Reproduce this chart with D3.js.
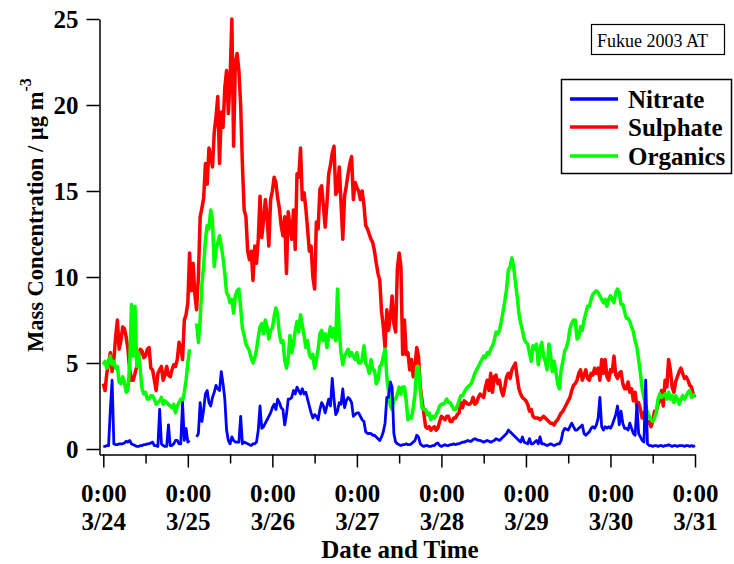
<!DOCTYPE html>
<html><head><meta charset="utf-8">
<script src="https://cdn.jsdelivr.net/npm/d3@7"></script>
<style>body{margin:0;background:#fff}svg{display:block}</style>
</head><body>
<svg id="chart" width="734" height="564"></svg>
<script>
// time in hours since 3/24 0:00, half-hour steps
const hours = d3.range(0, 168.5, 0.5);
const sulphate = [
3.8,3.4,4.4,5.0,5.6,4.5,5.2,6.5,7.5,5.8,6.3,7.1,7.0,6.5,5.8,4.6,4.0,4.0,4.4,4.8,5.4,5.8,5.7,5.3,
5.4,5.8,5.9,4.7,4.6,4.0,3.4,4.4,4.6,4.8,4.0,4.3,4.8,4.3,4.2,4.6,4.9,4.8,5.2,6.2,5.9,5.2,7.5,7.8,
8.5,11.4,9.2,10.8,9.0,8.1,10.0,13.5,14.0,14.6,16.6,15.4,17.5,17.0,16.4,18.4,19.3,20.5,16.6,19.6,18.7,21.0,22.0,19.5,
21.5,25.0,17.6,22.5,23.0,22.0,20.0,16.5,13.9,13.5,11.5,11.0,11.5,9.8,11.8,10.8,12.2,14.7,12.3,13.3,14.5,13.5,11.8,14.5,
15.0,15.8,15.5,14.6,14.0,13.0,12.4,13.5,10.2,13.8,13.0,12.2,13.9,11.6,16.0,15.8,17.5,14.5,14.9,14.0,12.8,11.5,11.8,10.0,
9.3,13.2,12.8,15.1,15.3,14.1,12.9,14.3,16.0,16.5,17.2,17.6,14.8,15.0,16.4,14.3,12.2,14.7,15.3,16.0,16.6,17.0,14.5,15.5,
15.2,15.0,14.5,15.0,14.2,13.0,12.8,12.5,12.2,12.0,11.5,10.8,10.2,9.8,8.0,7.1,5.9,8.1,6.9,7.7,8.9,7.3,6.8,10.5,
11.4,10.6,5.5,7.5,5.5,5.6,4.6,5.2,4.2,4.8,5.9,5.4,3.6,2.8,2.1,1.3,1.2,1.3,1.1,1.2,1.3,1.1,1.2,1.6,
1.9,1.8,1.7,1.9,1.9,1.6,1.6,1.8,1.8,2.0,2.1,2.7,2.4,2.8,2.7,2.6,2.6,2.7,3.0,2.6,2.7,3.0,3.2,3.1,
3.0,3.6,4.0,3.4,4.4,3.3,4.2,4.3,3.8,4.0,3.4,3.1,3.6,4.2,4.4,4.1,4.6,4.8,5.0,4.2,3.5,3.2,3.0,2.9,
2.8,2.6,2.2,2.3,1.9,1.8,1.8,1.8,1.7,1.8,1.9,1.8,1.7,1.6,1.5,1.5,1.4,1.6,1.7,1.9,2.1,2.2,2.4,2.6,
2.8,3.0,3.4,3.7,3.8,4.0,4.4,4.6,4.0,4.3,4.6,4.1,4.0,4.4,4.3,4.7,4.4,4.7,4.0,5.2,4.4,5.2,4.2,4.0,
4.6,4.5,5.4,4.3,4.1,4.4,4.5,3.8,3.5,3.5,3.9,3.3,3.5,2.8,3.3,2.5,2.7,2.3,1.8,2.1,1.8,1.5,1.6,1.3,
1.6,2.2,2.2,2.6,2.8,3.4,2.5,4.0,3.6,5.2,4.6,3.6,3.3,3.9,4.2,4.5,4.7,4.4,4.1,4.2,4.0,3.7,3.6,3.2,
3.0];
const organics = [
4.9,5.1,4.7,5.0,5.4,4.9,5.1,4.7,4.8,3.9,3.8,4.2,3.9,3.3,3.4,5.0,8.4,5.4,8.3,4.8,5.6,4.6,3.5,3.2,
3.3,2.9,2.9,3.1,3.1,2.9,2.6,2.7,2.8,3.0,2.6,2.8,2.7,2.6,2.5,2.4,2.6,2.1,2.5,2.7,2.9,2.8,3.3,4.0,
5.0,5.8,null,null,null,7.3,6.2,7.5,9.6,10.7,12.2,13.0,12.8,13.9,13.3,10.6,11.6,12.0,12.4,11.8,11.1,10.2,9.1,8.9,
8.5,8.7,7.9,8.9,9.2,9.3,8.2,7.0,6.6,6.1,5.9,5.7,5.3,5.0,5.3,5.8,6.5,7.1,7.3,6.7,7.5,7.1,6.4,6.9,
7.0,7.7,8.2,7.8,6.7,6.2,6.3,5.2,4.7,5.3,6.6,5.6,6.1,6.9,7.4,6.8,7.8,7.2,6.6,5.9,6.3,5.5,5.3,5.5,
4.7,5.2,5.8,6.7,6.9,6.3,6.7,5.9,6.6,7.1,6.5,7.0,6.3,9.3,6.8,5.6,4.9,5.4,5.6,5.8,5.4,5.6,5.4,5.2,
5.6,5.0,5.0,5.2,6.0,5.0,4.8,4.4,5.2,4.6,4.6,3.8,4.0,4.8,4.9,5.4,5.8,4.2,3.3,2.5,2.3,2.9,2.9,3.2,
3.6,3.2,3.6,3.6,2.8,1.7,1.9,1.8,2.4,3.2,4.8,4.8,3.4,2.4,2.3,2.3,2.0,2.1,1.7,1.9,1.8,2.0,2.2,2.5,
2.6,2.6,2.7,2.9,2.7,2.7,2.5,2.3,2.3,2.5,2.8,3.1,3.1,3.3,3.5,3.6,3.7,3.8,4.1,4.4,4.6,4.8,5.0,5.2,
5.4,5.3,5.6,5.5,5.8,6.0,6.3,6.8,6.7,6.9,7.4,8.0,8.6,9.3,10.4,10.6,11.1,10.6,9.7,8.9,7.9,7.3,6.9,6.4,
6.2,6.1,5.6,5.1,6.0,5.8,6.1,4.9,5.8,6.2,5.4,5.1,4.6,6.1,5.5,4.5,5.1,4.5,3.8,3.5,4.6,5.1,5.7,5.9,
6.3,7.0,7.3,7.5,7.5,6.4,6.5,7.1,6.9,7.5,7.9,8.3,8.3,8.7,9.0,9.1,9.2,9.1,8.9,8.7,8.5,8.7,8.3,8.7,
8.9,8.7,8.5,9.1,9.3,9.1,8.4,8.4,8.0,7.6,7.6,7.4,7.1,6.8,6.3,5.9,5.2,4.4,3.5,3.0,2.5,2.1,1.9,1.7,
1.6,1.8,2.1,2.9,3.2,3.0,3.1,3.2,2.9,3.3,2.9,3.1,2.7,3.1,2.9,2.6,2.9,3.1,2.9,3.1,3.3,3.4,3.0,3.1,
3.2];
const nitrate = [
0.15,0.15,0.2,0.2,2.3,4.0,0.3,0.25,0.25,0.3,0.3,0.3,0.35,0.45,0.4,0.5,0.3,0.25,0.2,0.15,0.15,0.2,0.2,0.25,
0.25,0.3,0.3,0.35,0.4,0.2,0.2,0.15,2.3,0.3,0.2,0.15,0.15,1.4,0.2,0.2,0.3,0.5,0.5,0.3,0.3,2.7,0.5,1.2,
0.4,0.5,null,null,null,0.7,0.9,2.7,1.6,2.3,3.2,3.4,2.7,2.5,3.0,3.3,3.7,3.5,3.4,4.5,3.8,2.9,1.1,0.5,
0.3,0.7,0.5,0.4,0.4,0.4,1.9,0.3,0.4,0.35,0.3,0.25,0.2,0.3,0.3,0.4,1.1,2.5,1.2,1.3,1.5,1.7,1.9,2.1,
2.4,2.6,2.3,2.9,2.7,2.4,2.3,1.4,2.0,2.9,2.9,3.0,3.4,3.2,3.6,3.4,3.2,3.5,3.2,3.3,2.9,2.5,2.1,1.8,
2.0,1.9,1.7,2.3,2.7,2.5,2.1,2.5,2.9,2.5,4.1,2.9,2.0,2.2,2.7,2.6,3.5,2.4,2.8,3.0,2.9,2.7,1.9,2.0,
2.1,2.1,1.9,1.7,1.6,1.0,0.9,0.9,0.9,0.8,0.8,0.7,0.6,0.5,0.7,1.0,1.5,3.0,3.0,3.9,3.6,0.9,0.4,0.3,
0.25,0.2,0.25,0.25,0.3,0.25,0.25,0.3,0.4,0.5,0.8,0.7,0.3,0.2,0.15,0.2,0.2,0.15,0.15,0.2,0.2,0.3,0.35,0.2,
0.15,0.2,0.25,0.2,0.2,0.25,0.25,0.3,0.25,0.3,0.3,0.35,0.4,0.4,0.45,0.5,0.45,0.45,0.55,0.6,0.55,0.5,0.5,0.45,
0.4,0.45,0.5,0.45,0.4,0.45,0.5,0.6,0.55,0.5,0.6,0.7,0.8,0.9,1.1,1.0,0.9,0.8,0.7,0.6,0.5,0.4,0.7,0.4,
0.35,0.3,0.6,0.3,0.3,0.4,0.5,0.3,0.7,0.3,0.3,0.25,0.2,0.25,0.3,0.25,0.2,0.25,0.3,0.3,0.5,1.0,1.2,1.15,
1.1,1.3,1.5,1.3,1.1,1.1,1.2,1.3,1.4,0.9,0.8,0.9,1.0,1.2,1.3,1.2,1.4,1.8,3.0,1.3,1.1,1.3,1.2,1.3,
1.2,1.4,1.7,2.0,2.5,1.4,2.2,1.5,1.2,1.2,1.1,1.5,1.2,0.9,0.8,2.6,0.9,0.7,0.5,0.4,4.0,0.3,0.2,0.2,
0.15,0.2,0.2,0.15,0.2,0.2,0.15,0.2,0.2,0.25,0.2,0.15,0.2,0.2,0.15,0.2,0.2,0.2,0.15,0.2,0.2,0.15,0.2,0.15,
0.2];
const dayLabels = ["3/24","3/25","3/26","3/27","3/28","3/29","3/30","3/31"];
const timeLabel = "0:00";
const yTickValues = [0,5,10,15,20,25];
const seriesNames = ["Nitrate","Sulphate","Organics"];
const seriesColors = ["#0000ff","#ff0000","#00ff00"];
const boxTitle = "Fukue 2003 AT";

const FONT = "'Liberation Serif','Times New Roman',Times,serif";
const svg = d3.select("#chart");

const x = d3.scaleLinear().domain([0,168]).range([103.3,695]);
const y = d3.scaleLinear().domain([0,25]).range([449,19]);
const xAxisScale = x.copy().domain([x.invert(99.5),168]).range([99.5,695]);
const yAxisScale = y.copy().domain([y.invert(454.5),25]).range([454.5,19]);

const lineGen = d3.line()
  .defined(d => d.v != null)
  .x(d => x(d.h)).y(d => y(d.v));
const toPts = arr => arr.map((v,i)=>({h:hours[i], v:v}));
const drawOrder = [
  {data:sulphate, color:seriesColors[1], w:3.5},
  {data:organics, color:seriesColors[2], w:3.5},
  {data:nitrate, color:seriesColors[0], w:2.8}
];
const plot = svg.append("g");
drawOrder.forEach(s=>{
  plot.append("path").datum(toPts(s.data))
    .attr("d", lineGen).attr("fill","none")
    .attr("stroke", s.color).attr("stroke-width", s.w)
    .attr("stroke-linejoin","round");
});

// x axis minor ticks (12:00)
const gxMinor = svg.append("g").attr("transform","translate(0,454.5)")
  .call(d3.axisBottom(xAxisScale).tickValues(d3.range(12,169,24)).tickSize(9).tickSizeOuter(0).tickFormat(""));
gxMinor.select(".domain").remove();
// x axis major ticks with two-line labels
const gx = svg.append("g").attr("transform","translate(0,454.5)")
  .call(d3.axisBottom(xAxisScale).tickValues(d3.range(0,169,24)).tickSize(13).tickSizeOuter(0));
gx.selectAll(".tick text").each(function(d){
  const t = d3.select(this);
  t.text(null).attr("dy",null).attr("y",null);
  t.append("tspan").attr("x",0).attr("y",47.5).text(timeLabel);
  t.append("tspan").attr("x",0).attr("y",75.5).text(dayLabels[d/24]);
});
gx.selectAll("text").attr("font-family",FONT).attr("font-weight","bold")
  .attr("font-size",25).attr("fill","#000");

// y axis
const gy = svg.append("g").attr("transform","translate(99.5,0)")
  .call(d3.axisLeft(yAxisScale).tickValues(yTickValues).tickSize(13).tickSizeOuter(0).tickPadding(8));
gy.selectAll("text").attr("font-family",FONT).attr("font-weight","bold")
  .attr("font-size",25).attr("fill","#000");

[gx,gy,gxMinor].forEach(g=>{
  g.selectAll("line").attr("stroke","#000").attr("stroke-width",1.5);
  g.selectAll(".domain").attr("stroke","#000").attr("stroke-width",1.5);
});

// axis titles
svg.append("text").attr("x",400).attr("y",558).attr("text-anchor","middle")
  .attr("font-family",FONT).attr("font-weight","bold").attr("font-size",25)
  .text("Date and Time");
const yt = svg.append("text").attr("transform","translate(43,352) rotate(-90)")
  .attr("font-family",FONT).attr("font-weight","bold").attr("font-size",22.5);
yt.append("tspan").text("Mass Concentration / µg m");
yt.append("tspan").attr("dy",-12).attr("font-size",16).text("-3");

// title box
svg.append("rect").attr("x",591.5).attr("y",24.5).attr("width",133).attr("height",30)
  .attr("fill","#fff").attr("stroke","#000").attr("stroke-width",1.2);
svg.append("text").attr("x",597).attr("y",46.5)
  .attr("font-family",FONT).attr("font-size",18).text(boxTitle);

// legend
const lg = svg.append("g");
lg.append("rect").attr("x",561.5).attr("y",79.5).attr("width",170).attr("height",94)
  .attr("fill","#fff").attr("stroke","#000").attr("stroke-width",1.5);
const legY = [99,127,156];
seriesNames.forEach((n,i)=>{
  lg.append("line").attr("x1",570).attr("x2",618).attr("y1",legY[i]).attr("y2",legY[i])
    .attr("stroke",seriesColors[i]).attr("stroke-width",3.5);
  lg.append("text").attr("x",628).attr("y",legY[i]+8.5)
    .attr("font-family",FONT).attr("font-weight","bold").attr("font-size",25).text(n);
});
</script>
</body></html>
